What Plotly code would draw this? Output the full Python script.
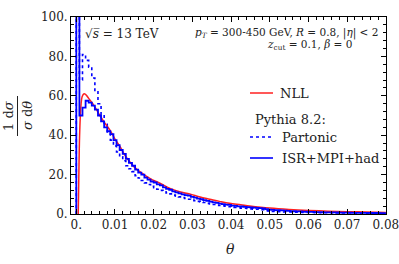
import plotly.graph_objects as go

# ---------------- data ----------------
bin_width = 0.0008
# ISR+MPI+had (solid blue), per bin of width 0.0008 from 0 to 0.08
had_vals = [260, 50, 54, 57.5, 56.5, 55, 53, 50, 47, 44,
            42, 40.5, 37.5, 35, 32.5, 30.5, 28, 26, 24.5, 22.5,
            21, 20, 18.5, 17.5, 16.5, 16, 15, 14.5, 13.5, 12.8,
            12.3, 11.5, 11, 10.5, 10, 9.6, 9.3, 8.7, 8.3, 7.8,
            7.5, 7, 6.7, 6.3, 5.9, 5.6, 5.3, 5, 4.8, 4.6,
            4.3, 4.1, 3.9, 3.8, 3.6, 3.5, 3.4, 3.2, 3.1, 3.0,
            2.9, 2.5, 2.2, 2.1, 2.0, 1.9, 1.8, 1.7, 1.6, 1.5,
            1.4, 1.35, 1.3, 1.2, 1.15, 1.1, 1.05, 1.0, 0.95, 0.9,
            0.85, 0.82, 0.8, 0.78, 0.75, 0.72, 0.7, 0.68, 0.65, 0.62,
            0.6, 0.58, 0.56, 0.55, 0.53, 0.52, 0.5, 0.5, 0.48, 0.47]
# Partonic (dotted blue)
part_vals = [200, 68, 81, 78, 74.5, 69, 62, 56, 50.5, 45.5,
             41, 37.5, 34.5, 31.5, 29, 27, 24.5, 23, 21.5, 19.5,
             18.3, 17, 15.8, 15, 14, 13.3, 12.6, 12, 11.3, 10.7,
             10.2, 9.6, 9, 8.7, 8.3, 7.9, 7.5, 7.1, 6.8, 6.4,
             6.1, 5.8, 5.4, 5.1, 4.8, 4.6, 4.3, 4.1, 3.9, 3.7,
             3.5, 3.3, 3.2, 3.0, 2.9, 2.8, 2.6, 2.5, 2.4, 2.3,
             2.2, 1.7, 1.4, 1.3, 1.25, 1.2, 1.15, 1.1, 1.05, 1.0,
             0.95, 0.9, 0.88, 0.85, 0.8, 0.78, 0.75, 0.72, 0.7, 0.68,
             0.65, 0.62, 0.6, 0.58, 0.56, 0.55, 0.53, 0.5, 0.5, 0.48,
             0.46, 0.45, 0.44, 0.43, 0.42, 0.41, 0.4, 0.4, 0.39, 0.38]
# NLL (red smooth curve)
nll_theta = [0.0005, 0.0006, 0.0007, 0.0008, 0.001, 0.0012, 0.0015, 0.002, 0.0025,
             0.0032, 0.0045, 0.0058, 0.0071, 0.0087, 0.010, 0.0113, 0.0125, 0.0138,
             0.015, 0.0164, 0.019, 0.0216, 0.0242, 0.0267, 0.0293, 0.032, 0.0345,
             0.037, 0.0396, 0.0425, 0.0448, 0.05, 0.055, 0.06, 0.065, 0.07, 0.075, 0.08]
nll_vals = [0, 12, 25, 36, 48, 55, 59.5, 61, 60.5,
            58.7, 55.3, 51, 46.9, 42.6, 38, 34.2, 30, 26.5,
            23.8, 21.5, 18.1, 15.6, 13, 11.3, 10.2, 8.6, 7.5,
            6.4, 5.4, 4.7, 4.1, 3.0, 2.3, 1.8, 1.45, 1.2, 1.0, 0.8]

x_tickvals = [0, 0.01, 0.02, 0.03, 0.04, 0.05, 0.06, 0.07, 0.08]
x_ticktext = ["0.", "0.01", "0.02", "0.03", "0.04", "0.05", "0.06", "0.07", "0.08"]
y_tickvals = [0, 20, 40, 60, 80, 100]
y_ticktext = ["0.", "20.", "40.", "60.", "80.", "100."]


def step_xy(vals):
    edges = [i * bin_width for i in range(len(vals) + 1)]
    xs = [0.0] + edges
    ys = [0.0] + list(vals) + [vals[-1]]
    return xs, ys


BLUE = "#0000ff"
RED = "#ff2020"
FONT = "DejaVu Serif"
TXT = "#222222"

fig = go.Figure()
nx, ny = step_xy(had_vals)
px_, py_ = step_xy(part_vals)
fig.add_trace(go.Scatter(x=px_, y=py_, mode="lines", line=dict(color=BLUE, width=1.6, dash="dot", shape="hv")))
fig.add_trace(go.Scatter(x=nll_theta, y=nll_vals, mode="lines", line=dict(color=RED, width=1.5, shape="spline")))
fig.add_trace(go.Scatter(x=nx, y=ny, mode="lines", line=dict(color=BLUE, width=1.8, shape="hv")))

L, R, T, B = 71, 386, 17, 214
W, H = 399, 264


def pxx(p):
    return (p - L) / (R - L)


def pxy(p):
    return (B - p) / (B - T)


axis_common = dict(showline=True, linecolor="black", linewidth=1, mirror="allticks",
                   ticks="inside", ticklen=5, tickcolor="black", tickwidth=1,
                   showgrid=False, zeroline=False, automargin=False,
                   ticklabeloverflow="allow",
                   tickfont=dict(family=FONT, size=12, color=TXT))

fig.update_xaxes(range=[-0.00137, 0.08005], tickvals=x_tickvals, ticktext=x_ticktext,
                 minor=dict(dtick=0.002, tick0=0, ticks="inside", ticklen=3, tickcolor="black", showgrid=False),
                 **axis_common)
fig.update_yaxes(range=[0, 100], tickvals=y_tickvals, ticktext=y_ticktext,
                 minor=dict(dtick=4, tick0=0, ticks="inside", ticklen=3, tickcolor="black", showgrid=False),
                 **axis_common)

ann = []
def add_text(text, x, y, xanchor="left", size=12, angle=0):
    ann.append(dict(text=text, x=pxx(x), y=pxy(y), xref="paper", yref="paper",
                    xanchor=xanchor, yanchor="middle", showarrow=False, textangle=angle,
                    font=dict(family=FONT, size=size, color=TXT)))

add_text("√<i>s\u0305</i> = 13 TeV", 83, 34, size=12)
add_text("<i>p<sub>T</sub></i> = 300-450 GeV, <i>R</i> = 0.8, |<i>η</i>| &lt; 2", 380, 33, xanchor="right", size=10.5)
add_text("<i>z</i><sub>cut</sub> = 0.1, <i>β</i> = 0", 309, 45, xanchor="center", size=10.5)
add_text("NLL", 278, 93, size=13)
add_text("Pythia 8.2:", 253, 119, size=13)
add_text("Partonic", 280, 137, size=13)
add_text("ISR+MPI+had", 280, 158, size=13)
add_text("<i>θ</i>", 230, 249, xanchor="center", size=14)
# y-axis label as rotated fraction
add_text("1 d<i>σ</i>", 8, 116, xanchor="center", size=13, angle=-90)
add_text("<i>σ</i> d<i>θ</i>", 27, 116, xanchor="center", size=13, angle=-90)

shapes = [
    dict(type="line", xref="paper", yref="paper", x0=pxx(250), x1=pxx(273), y0=pxy(93), y1=pxy(93),
         line=dict(color=RED, width=1.5)),
    dict(type="line", xref="paper", yref="paper", x0=pxx(250), x1=pxx(273), y0=pxy(137), y1=pxy(137),
         line=dict(color=BLUE, width=1.6, dash="dot")),
    dict(type="line", xref="paper", yref="paper", x0=pxx(250), x1=pxx(273), y0=pxy(158), y1=pxy(158),
         line=dict(color=BLUE, width=1.6)),
    dict(type="line", xref="paper", yref="paper", x0=pxx(17.5), x1=pxx(17.5), y0=pxy(96), y1=pxy(136),
         line=dict(color=TXT, width=1)),
]

fig.update_layout(width=W, height=H, margin=dict(l=L, r=W - R, t=T, b=H - B),
                  font=dict(family=FONT, color=TXT),
                  paper_bgcolor="white", plot_bgcolor="white", showlegend=False,
                  annotations=ann, shapes=shapes)

fig.write_html("out.html", config={"displayModeBar": False},
               post_script="document.body.style.margin='0px';document.body.style.overflow='hidden';")
